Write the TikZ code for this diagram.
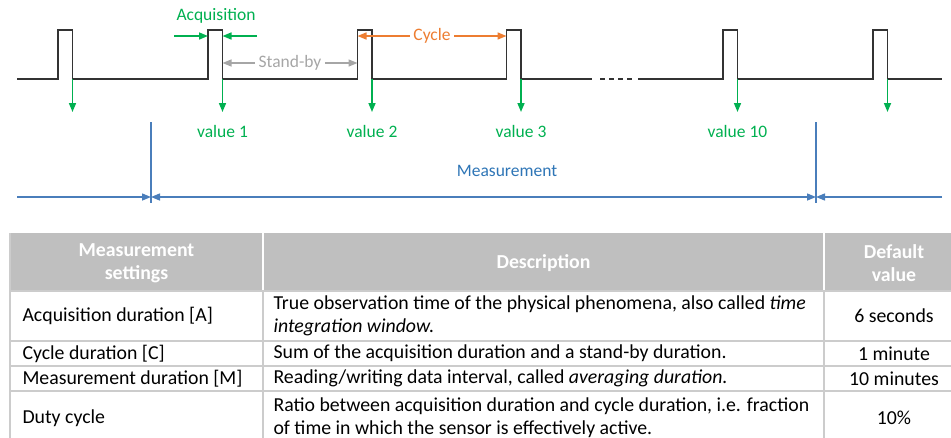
\documentclass[tikz,border=0pt]{standalone}
\usepackage{fontspec}
\setmainfont{Carlito}
\usetikzlibrary{arrows.meta,positioning}
\definecolor{valgreen}{HTML}{00B050}
\definecolor{cycorange}{HTML}{ED7D31}
\definecolor{idlegray}{HTML}{A6A6A6}
\definecolor{measblue}{HTML}{4A7EBB}
\definecolor{meastext}{HTML}{2E75B6}
\definecolor{headgray}{HTML}{BFBFBF}
\definecolor{rulegray}{HTML}{CCCCCC}

\begin{document}
\begin{tikzpicture}[
    x=1pt, y=-1pt,
    >={Triangle[length=9pt,width=7pt]},
    every node/.style={font=\fontsize{17.5}{21}\selectfont},
    signal/.style={line width=1.9pt, draw=black!80},
    readout/.style={->, line width=1.6pt, color=valgreen},
    span/.style={->, line width=1.6pt},
    dimline/.style={line width=1.4pt, color=measblue},
    cell/.style={font=\fontsize{19.8}{23}\selectfont, align=left},
    headcell/.style={font=\fontsize{19.8}{23}\selectfont\bfseries, text=white, align=center},
    rule/.style={line width=1.2pt, draw=rulegray}
]
\useasboundingbox (0,0) rectangle (951,437);
\clip (0,0) rectangle (951,437);

% pulses of the sensor signal
\foreach \n/\x in {1/58, 2/208, 3/357.5, 4/506.5, 5/723, 6/873} {
    \coordinate (up\n) at (\x,79);
    \coordinate (down\n) at (\x+14.5,79);
    \coordinate (top\n) at (\x,30);
    \coordinate (read\n) at (\x+14.5,112);
}
\coordinate (start) at (17,79);
\coordinate (gapL) at (592,79);
\coordinate (dashA) at (600,79);
\coordinate (dashB) at (633,79);
\coordinate (gapR) at (638,79);
\coordinate (stop) at (942,79);
\draw[signal] (start) \foreach \n in {1,...,4} { -- (up\n) -- (top\n) -- ++(14.5,0) -- (down\n) } -- (gapL);
\draw[signal, dash pattern=on 4.5pt off 4.5pt] (dashA) -- (dashB);
\draw[signal] (gapR) \foreach \n in {5,6} { -- (up\n) -- (top\n) -- ++(14.5,0) -- (down\n) } -- (stop);

% read-outs
\foreach \n in {1,...,6}
    \draw[readout] (down\n) -- (read\n);
\coordinate (labelrow) at (0,131);
\foreach \n/\t in {2/value 1, 3/value 2, 4/value 3, 5/value 10}
    \node[text=valgreen] (val\n) at (read\n |- labelrow) {\t};

% acquisition, stand-by and cycle
\node[text=valgreen] (acq) at (216,16) {Acquisition};
\coordinate (acqL) at (174,36);
\coordinate (acqR) at (257,36);
\draw[span, color=valgreen] (acqL) -- (top2 |- acqL);
\draw[span, color=valgreen] (acqR) -- (down2 |- acqR);
\node[text=idlegray] (idle) at (290,63) {Stand-by};
\draw[->, line width=1.4pt, color=idlegray] (idle.west) -- (down2 |- idle);
\draw[->, line width=1.4pt, color=idlegray] (idle.east) -- (up3 |- idle);
\node[text=cycorange] (cyc) at (432,36) {Cycle};
\draw[span, color=cycorange] (cyc.west) -- (up3 |- cyc);
\draw[span, color=cycorange] (cyc.east) -- (up4 |- cyc);

% measurement window
\coordinate (markAtop) at (151,122);
\coordinate (markAbot) at (151,203);
\coordinate (markBtop) at (816,122);
\coordinate (markBbot) at (816,203);
\coordinate (dimL) at (17,197);
\coordinate (dimR) at (942,197);
\draw[dimline] (markAtop) -- (markAbot);
\draw[dimline] (markBtop) -- (markBbot);
\draw[dimline, ->] (dimL) -- (markAtop |- dimL);
\draw[dimline, <->] (markAtop |- dimL) -- (markBtop |- dimL);
\draw[dimline, ->] (dimR) -- (markBtop |- dimR);
\node[text=meastext] (meas) at (507,171) {Measurement};

% settings table
\fill[headgray] (10,233) rectangle (951,291);
\draw[white, line width=1.2pt] (263,233) -- (263,291);
\draw[white, line width=1.2pt] (824,233) -- (824,291);
\draw[rule] (10,233) -- (10,445);
\foreach \y in {291,341,366,391}
    \draw[rule] (10,\y) -- (951,\y);
\foreach \x in {263,824}
    \draw[rule] (\x,291) -- (\x,445);

\node[headcell] (hset) at (136.5,263) {Measurement\\settings};
\node[headcell] (hdesc) at (543.5,263) {Description};
\node[headcell] (hval) at (894,263) {Default\\value};

\node[cell, anchor=west] (set1) at (19,316) {Acquisition duration [A]};
\node[cell, anchor=west] (set2) at (19,353.5) {Cycle duration [C]};
\node[cell, anchor=west] (set3) at (19,378.5) {Measurement duration [M]};
\node[cell, anchor=west] (set4) at (19,418) {Duty cycle};

\node[cell, anchor=west] (desc1) at (270,316) {True observation time of the physical phenomena, also called \textit{time}\\\textit{integration window.}};
\node[cell, anchor=west] (desc2) at (270,353.5) {Sum of the acquisition duration and a stand-by duration.};
\node[cell, anchor=west] (desc3) at (270,378.5) {Reading/writing data interval, called \textit{averaging duration.}};
\node[cell, anchor=west] (desc4) at (270,418) {Ratio between acquisition duration and cycle duration, i.e. fraction\\of time in which the sensor is effectively active.};

\node[cell] (val1) at (894,316) {6 seconds};
\node[cell] (val2) at (894,353.5) {1 minute};
\node[cell] (val3) at (894,378.5) {10 minutes};
\node[cell] (val4) at (894,418) {10\%};
\end{tikzpicture}
\end{document}
